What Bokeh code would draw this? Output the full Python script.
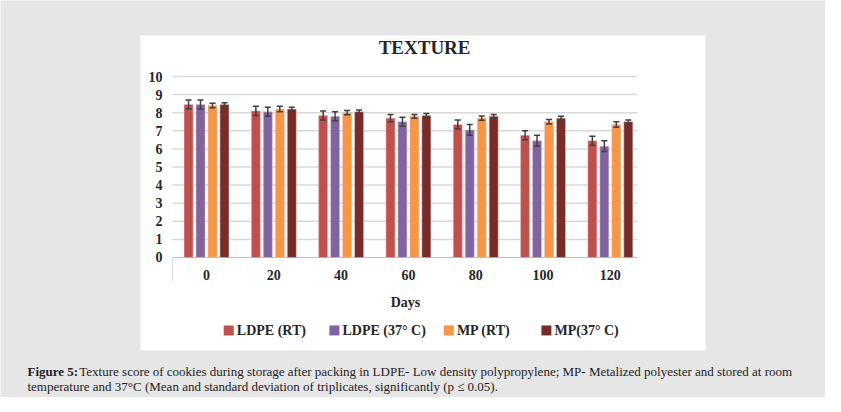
from bokeh.plotting import figure
from bokeh.models import ColumnDataSource, Range1d
from bokeh.core.properties import value
from bokeh.embed import file_html
from bokeh.resources import INLINE

days = ["0", "20", "40", "60", "80", "100", "120"]
series = ["LDPE (RT)", "LDPE (37° C)", "MP (RT)", "MP(37° C)"]
colors = ["#c0504d", "#8064a2", "#f79646", "#772c2a"]
ldpe_rt = [8.45, 8.1, 7.85, 7.7, 7.35, 6.75, 6.45]
ldpe_37 = [8.45, 8.05, 7.8, 7.5, 7.05, 6.45, 6.15]
mp_rt = [8.4, 8.2, 8.0, 7.8, 7.7, 7.5, 7.35]
mp_37 = [8.45, 8.2, 8.05, 7.85, 7.8, 7.7, 7.5]
ldpe_rt_sd = [0.25, 0.25, 0.25, 0.2, 0.25, 0.25, 0.25]
ldpe_37_sd = [0.25, 0.25, 0.25, 0.25, 0.3, 0.3, 0.3]
mp_rt_sd = [0.12, 0.15, 0.12, 0.1, 0.12, 0.12, 0.15]
mp_37_sd = [0.1, 0.1, 0.1, 0.1, 0.1, 0.1, 0.1]
y_ticks = list(range(0, 11))
caption_bold = "Figure 5:"
caption_1 = "Texture score of cookies during storage after packing in LDPE- Low density polypropylene; MP- Metalized polyester and stored at room"
caption_2 = "temperature and 37°C (Mean and standard deviation of triplicates, significantly (p ≤ 0.05)."

values = [ldpe_rt, ldpe_37, mp_rt, mp_37]
sds = [ldpe_rt_sd, ldpe_37_sd, mp_rt_sd, mp_37_sd]
offsets = [-0.267, -0.089, 0.089, 0.267]
serif = value("Liberation Serif")

p = figure(width=825, height=397, output_backend="svg", toolbar_location=None,
           x_range=Range1d(-3.061, 9.197), y_range=Range1d(-7.735, 14.199),
           min_border=0, border_fill_color="#e6e6e6", background_fill_color="#e6e6e6",
           outline_line_color=None)
p.axis.visible = False
p.grid.visible = False

# white chart panel
p.quad(left=[-0.981], right=[7.415], top=[12.27], bottom=[-5.14],
       fill_color="white", line_color=None)

# gridlines and axis
p.segment(x0=[-0.505] * 10, x1=[6.4] * 10, y0=y_ticks[1:], y1=y_ticks[1:],
          line_color="#d9d9d9", line_width=1.5)
p.segment(x0=[-0.505], x1=[6.4], y0=[0], y1=[0], line_color="#bfbfbf", line_width=1)
p.segment(x0=[-0.505], x1=[-0.505], y0=[0], y1=[-1.3], line_color="#d9d9d9", line_width=1)

idx = list(range(len(days)))
cap = 0.045
for vals, sd, off, col in zip(values, sds, offsets, colors):
    xs = [i + off for i in idx]
    lo = [v - s for v, s in zip(vals, sd)]
    hi = [v + s for v, s in zip(vals, sd)]
    src = ColumnDataSource(dict(x=xs, top=vals, lo=lo, hi=hi,
                                xl=[x - cap for x in xs], xr=[x + cap for x in xs]))
    p.vbar(x="x", top="top", bottom=0, width=0.134, source=src,
           fill_color=col, line_color="#e8c8c8", line_width=0.5)
    p.segment(x0="x", x1="x", y0="lo", y1="hi", source=src, line_color="#404040", line_width=1.5)
    p.segment(x0="xl", x1="xr", y0="hi", y1="hi", source=src, line_color="#404040", line_width=1.5)
    p.segment(x0="xl", x1="xr", y0="lo", y1="lo", source=src, line_color="#404040", line_width=1.5)

# tick labels
p.text(x=[-0.654] * len(y_ticks), y=y_ticks, text=[str(t) for t in y_ticks],
       text_align="right", text_baseline="middle", text_font=serif,
       text_font_style="bold", text_font_size="14px", text_color="#262626")
p.text(x=idx, y=[-0.99] * len(idx), text=days, text_align="center",
       text_baseline="middle", text_font=serif, text_font_style="bold",
       text_font_size="14px", text_color="#262626")
p.text(x=[2.957], y=[-2.49], text=["Days"], text_align="center", text_baseline="middle",
       text_font=serif, text_font_style="bold", text_font_size="14px", text_color="#262626")
p.text(x=[3.24], y=[11.6], text=["TEXTURE"], text_align="center", text_baseline="middle",
       text_font=serif, text_font_style="bold", text_font_size="19px", text_color="#262626")

# legend
leg_x = [0.33, 1.90, 3.60, 5.05]
p.scatter(x=leg_x, y=[-4.03] * 4, marker="square", size=10, fill_color=colors, line_color=None)
p.text(x=[x + 0.12 for x in leg_x], y=[-4.03] * 4, text=series, text_baseline="middle",
       text_font=serif, text_font_style="bold", text_font_size="14px", text_color="#262626")

# caption
p.text(x=[-2.66], y=[-6.3], text=[caption_bold], text_baseline="middle", text_font=serif,
       text_font_style="bold", text_font_size="13px", text_color="#222222")
p.text(x=[-1.89], y=[-6.3], text=[caption_1], text_baseline="middle", text_font=serif,
       text_font_size="13px", text_color="#222222")
p.text(x=[-2.66], y=[-7.13], text=[caption_2], text_baseline="middle", text_font=serif,
       text_font_size="13px", text_color="#222222")

open("out.html", "w").write(file_html(p, INLINE))
